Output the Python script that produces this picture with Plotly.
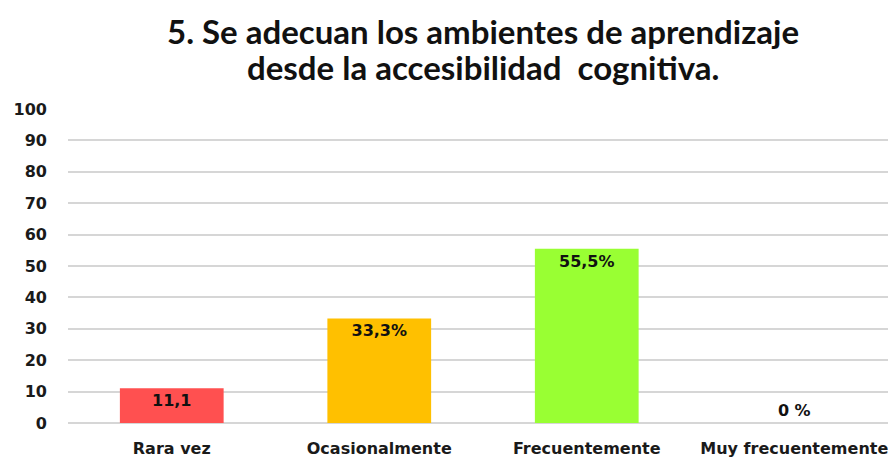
import plotly.graph_objects as go

categories = ["Rara vez", "Ocasionalmente", "Frecuentemente", "Muy frecuentemente"]
values = [11.1, 33.3, 55.5, 0]
labels = ["11,1", "33,3%", "55,5%", "0 %"]
colors = ["#FF5050", "#FFC000", "#99FF33", "#FFFFFF"]
y_ticks = [0, 10, 20, 30, 40, 50, 60, 70, 80, 90, 100]
title_lines = ["5. Se adecuan los ambientes de aprendizaje",
               "desde la accesibilidad  cognitiva."]

AXIS_FONT = dict(family="DejaVu Sans", size=16, color="#1a1a1a", weight="bold")

fig = go.Figure(go.Bar(
    x=categories,
    y=values,
    marker=dict(color=colors, line=dict(width=0)),
    text=labels,
    textposition=["inside", "inside", "inside", "outside"],
    insidetextanchor="end",
    textangle=0,
    textfont=dict(family="DejaVu Sans", size=16, color="#111111", weight="bold"),
    cliponaxis=False,
    width=0.5,
))

# the page body adds an 8px offset, so margins are shifted to compensate
fig.update_layout(
    width=896, height=457,
    margin=dict(l=58, r=6, t=101, b=42),
    paper_bgcolor="white", plot_bgcolor="white",
    showlegend=False,
    uniformtext=dict(minsize=10, mode="show"),
)

# two-line title placed as annotations to keep the tight line spacing
for line, ypos in zip(title_lines, [1.250, 1.135]):
    fig.add_annotation(
        text=f"<b>{line}</b>", x=0.5, xref="paper", y=ypos, yref="paper",
        xanchor="center", yanchor="middle", showarrow=False,
        font=dict(family="Lato", size=33, color="#111111"),
    )

fig.update_yaxes(
    range=[0, 100], tickvals=y_ticks,
    showgrid=True, gridcolor="#d6d6d6", gridwidth=1.5,
    zeroline=True, zerolinecolor="#d6d6d6", zerolinewidth=1.5,
    tickfont=AXIS_FONT, ticklabelstandoff=20,
)
fig.update_xaxes(
    tickfont=AXIS_FONT, ticklabelstandoff=14,
    showline=False,
)

fig.write_html("out.html")
